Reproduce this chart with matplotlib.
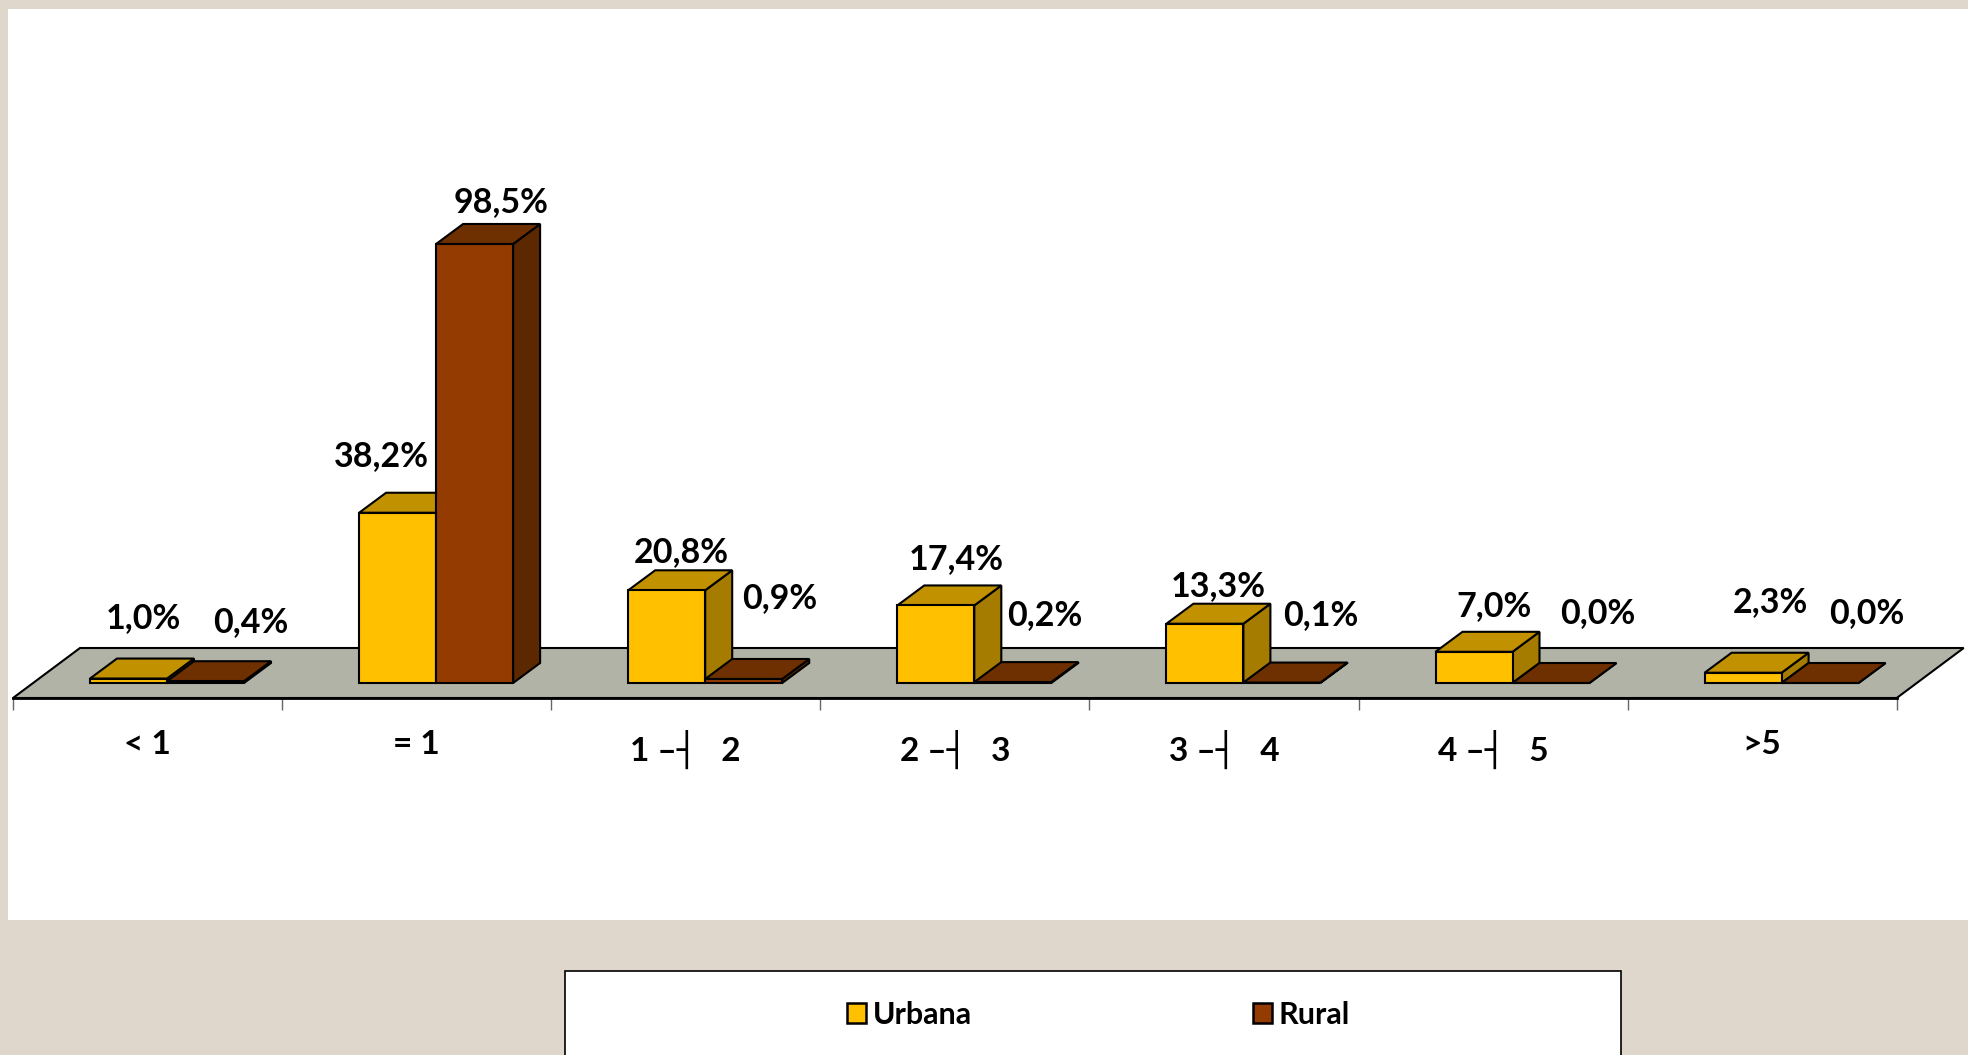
import matplotlib
matplotlib.use('Agg')
import matplotlib.pyplot as plt
from matplotlib.patches import Patch, Rectangle

# values
categories = ['< 1', '= 1', '1 \u2013\u2524   2', '2 \u2013\u2524   3', '3 \u2013\u2524   4', '4 \u2013\u2524   5', '>5']
urbana = [1.0, 38.2, 20.8, 17.4, 13.3, 7.0, 2.3]
rural = [0.4, 98.5, 0.9, 0.2, 0.1, 0.0, 0.0]

plt.rcParams['font.family'] = ['Lato', 'DejaVu Sans']
plt.rcParams['font.weight'] = 'bold'

W, H = 1968, 1055
CAT_PX = 269.1   # pixels per category
PCT_PX = 4.457   # pixels per percent
X0_PX, Y0_PX = 13, 683

# label offsets from top of the front face, in pixels
urbana_off = [(15, 60), (-16, 57), (15, 38), (20, 46), (13, 38), (20, 46), (27, 71)]
rural_off = [(45, 59), (26, 42), (36, 81), (32, 67), (39, 68), (47, 70), (47, 70)]

bar_w = 77 / CAT_PX
bar_left = 77 / CAT_PX
depth_x = 27 / CAT_PX
depth_y = 20 / PCT_PX
floor_y = -15 / PCT_PX
floor_dx = 67 / CAT_PX
floor_dy = 50 / PCT_PX


def px_rect(x0, y0, x1, y1, **kw):
    # rectangle on the figure given in image pixels
    return Rectangle((x0 / W, 1 - y1 / H), (x1 - x0) / W, (y1 - y0) / H,
                     transform=fig.transFigure, zorder=-1, **kw)


def bar3d(ax, x, h, front, side, top):
    ec = dict(edgecolor='black', linewidth=1.5, joinstyle='miter')
    ax.fill([x + bar_w, x + bar_w + depth_x, x + bar_w + depth_x, x + bar_w],
            [0, depth_y, h + depth_y, h], facecolor=side, **ec)
    ax.fill([x, x + bar_w, x + bar_w + depth_x, x + depth_x],
            [h, h, h + depth_y, h + depth_y], facecolor=top, **ec)
    ax.bar(x, h, bar_w, align='edge', color=front, edgecolor='black', linewidth=1.5)


fig = plt.figure(figsize=(W / 100, H / 100), dpi=100, facecolor='#DFD7CB')
fig.patches.append(px_rect(8, 9, W + 5, 920, facecolor='white', edgecolor='none'))
fig.patches.append(px_rect(565, 971, 1621, H + 5, facecolor='white', edgecolor='black', linewidth=1.2))

ax = fig.add_axes([0, 0, 1, 1])
ax.patch.set_visible(False)
ax.set_xlim(-X0_PX / CAT_PX, (W - X0_PX) / CAT_PX)
ax.set_ylim((Y0_PX - H) / PCT_PX, Y0_PX / PCT_PX)

n = len(categories)
ax.fill([0, n, n + floor_dx, floor_dx], [floor_y, floor_y, floor_y + floor_dy, floor_y + floor_dy],
        facecolor='#B0B3A5', edgecolor='black', linewidth=1.5, joinstyle='miter')

for i in range(n):
    x = i + bar_left
    bar3d(ax, x, urbana[i], '#FFC000', '#A67C00', '#C29100')
    bar3d(ax, x + bar_w, rural[i], '#933B00', '#5C2800', '#6E3000')
    for xx, v, off in ((x, urbana[i], urbana_off[i]), (x + bar_w, rural[i], rural_off[i])):
        ax.annotate(f'{v:.1f}%'.replace('.', ','), (xx + bar_w / 2, v), xytext=off,
                    textcoords='offset pixels', ha='center', va='center',
                    fontsize=24.5, fontweight='bold', color='black')

for name in ('top', 'left', 'right'):
    ax.spines[name].set_visible(False)
ax.spines['bottom'].set_position(('data', floor_y))
ax.spines['bottom'].set_bounds(0, n)
ax.spines['bottom'].set_linewidth(2)
ax.set_yticks([])
ax.set_xticks(range(n + 1))
ax.set_xticklabels([])
ax.tick_params(axis='x', which='major', direction='out', length=8.5, width=1, color='#666666')
ax.set_xticks([i + 0.5 for i in range(n)], minor=True)
ax.set_xticklabels(categories, minor=True, fontsize=24, fontweight='bold')
ax.tick_params(axis='x', which='minor', length=0, pad=23)

handles = [Patch(facecolor='#FFC000', edgecolor='black', linewidth=1.8, label='Urbana'),
           Patch(facecolor='#933B00', edgecolor='black', linewidth=1.8, label='Rural')]
fig.legend(handles=handles, loc='center left', bbox_to_anchor=(847 / W, 1 - 1015 / H), ncol=2,
           frameon=False, fontsize=22, borderpad=0, borderaxespad=0, handlelength=0.62,
           handleheight=0.65, handletextpad=0.22, columnspacing=9.2)

fig.savefig('out.png', dpi=100, facecolor=fig.get_facecolor())
